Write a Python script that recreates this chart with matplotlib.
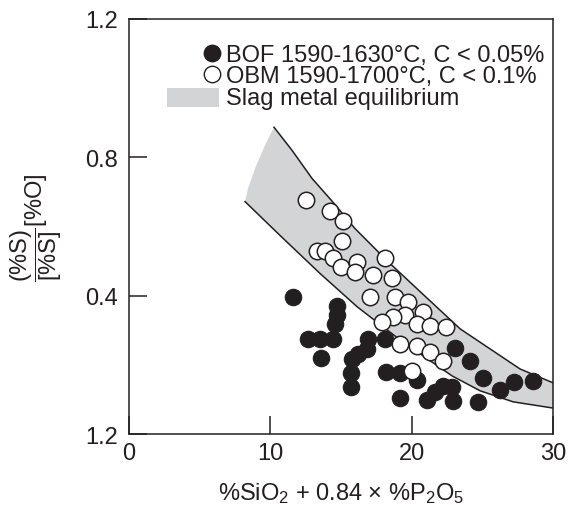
import matplotlib
matplotlib.use("Agg")
import matplotlib.pyplot as plt
from matplotlib.patches import Rectangle

plt.rcParams['font.family'] = ['Liberation Sans', 'DejaVu Sans']
plt.rcParams['mathtext.fontset'] = 'custom'
plt.rcParams['mathtext.rm'] = 'Liberation Sans'
plt.rcParams['mathtext.it'] = 'Liberation Sans'
plt.rcParams['mathtext.bf'] = 'Liberation Sans:bold'

# BOF data points
bof_x = [11.61, 14.72, 14.72, 14.58, 12.67, 13.52, 14.44, 13.59, 16.91, 16.84,
         18.12, 15.78, 16.21, 15.71, 15.71, 18.19, 19.18, 20.38, 19.18, 21.09,
         21.66, 22.22, 22.86, 22.93, 24.70, 23.07, 24.13, 25.05, 26.26, 27.25, 28.59]
bof_y = [0.397, 0.371, 0.345, 0.319, 0.275, 0.275, 0.275, 0.220, 0.275, 0.246,
         0.275, 0.217, 0.232, 0.177, 0.136, 0.180, 0.177, 0.157, 0.104, 0.099,
         0.122, 0.139, 0.136, 0.096, 0.093, 0.249, 0.212, 0.162, 0.128, 0.151, 0.154]

# OBM data points
obm_x = [12.53, 14.22, 15.15, 15.07, 13.30, 13.87, 14.44, 15.00, 16.14, 15.99,
         17.27, 18.12, 18.61, 17.06, 18.83, 19.75, 20.81, 19.53, 18.68, 17.90,
         20.38, 21.30, 22.43, 19.18, 20.38, 21.30, 22.22, 20.03]
obm_y = [0.678, 0.646, 0.617, 0.557, 0.530, 0.530, 0.510, 0.484, 0.496, 0.467,
         0.461, 0.510, 0.452, 0.397, 0.397, 0.383, 0.354, 0.345, 0.339, 0.325,
         0.319, 0.313, 0.310, 0.261, 0.255, 0.238, 0.212, 0.182]

# slag/metal equilibrium band outline
band_upper_x = [10.26, 11.54, 12.95, 14.44, 15.99, 18.26, 20.59, 23.43, 25.55, 27.67, 30.0]
band_upper_y = [0.887, 0.820, 0.739, 0.670, 0.594, 0.501, 0.412, 0.304, 0.246, 0.188, 0.148]
band_lower_x = [8.21, 10.69, 13.52, 16.14, 19.18, 22.86, 24.84, 27.18, 30.0]
band_lower_y = [0.672, 0.574, 0.464, 0.368, 0.272, 0.168, 0.125, 0.093, 0.075]
band_left_x = [9.62, 8.92, 8.42]
band_left_y = [0.835, 0.768, 0.710]

x_ticks = [0, 10, 20, 30]
y_ticks = [0, 0.4, 0.8, 1.2]
y_tick_labels = ['1.2', '0.4', '0.8', '1.2']

legend_labels = ['BOF 1590-1630°C, C < 0.05%',
                 'OBM 1590-1700°C, C < 0.1%',
                 'Slag metal equilibrium']

FS = 17
MS = 140
INK = '#231f20'
GREY = '#d3d4d6'

fig = plt.figure(figsize=(5.68, 5.06), dpi=100)
ax = fig.add_axes([129/568, 1-435/506, 424/568, 415/506])

# band: fill the outline, then stroke only the upper and lower curves
poly_x = band_upper_x + band_lower_x[::-1] + band_left_x[::-1]
poly_y = band_upper_y + band_lower_y[::-1] + band_left_y[::-1]
ax.fill(poly_x, poly_y, color=GREY, lw=0, zorder=1)
ax.plot(band_upper_x, band_upper_y, color=INK, lw=1.1, zorder=2)
ax.plot(band_lower_x, band_lower_y, color=INK, lw=1.1, zorder=2)

ax.scatter(bof_x, bof_y, s=MS, c=INK, edgecolors=INK, linewidths=0.8, zorder=3)
ax.scatter(obm_x, obm_y, s=MS, c='white', edgecolors=INK, linewidths=1.1, zorder=4)

ax.set_xlim(0, 30)
ax.set_ylim(0, 1.2)
ax.set_xticks(x_ticks)
ax.set_yticks(y_ticks)
ax.set_yticklabels(y_tick_labels)
ax.tick_params(direction='in', length=13, width=1.1, labelsize=FS, color=INK, labelcolor=INK)
ax.tick_params(axis='y', pad=8)
ax.tick_params(axis='x', pad=6)
for sp in ax.spines.values():
    sp.set_linewidth(1.1)
    sp.set_color(INK)

ax.set_xlabel('%SiO$_2$ + 0.84 × %P$_2$O$_5$', fontsize=FS, color=INK)
ax.xaxis.set_label_coords(0.5, -0.11)
ax.set_ylabel(r'$\dfrac{(\%S)}{[\%S]}[\%O]$', fontsize=FS, color=INK, va='center')
ax.yaxis.set_label_coords((36-129)/424, 0.5)

# legend drawn by hand
tx = (226-129)/424
mx = (212-129)/424
ax.scatter([mx], [(435-54)/415], s=MS, c=INK, transform=ax.transAxes,
           zorder=5, clip_on=False)
ax.scatter([mx], [(435-75)/415], s=MS, c='white', edgecolors=INK,
           linewidths=1.0, transform=ax.transAxes, zorder=5, clip_on=False)
ax.add_patch(Rectangle(((167-129)/424, (435-108)/415), 52/424, 19/415,
                       transform=ax.transAxes, color=GREY, lw=0, zorder=5))
for lab, by in zip(legend_labels, [62, 83, 105]):
    ax.text(tx, (435-by)/415, lab, transform=ax.transAxes, fontsize=FS,
            va='baseline', ha='left', color=INK, zorder=6)

fig.savefig('out.png', dpi=100)
